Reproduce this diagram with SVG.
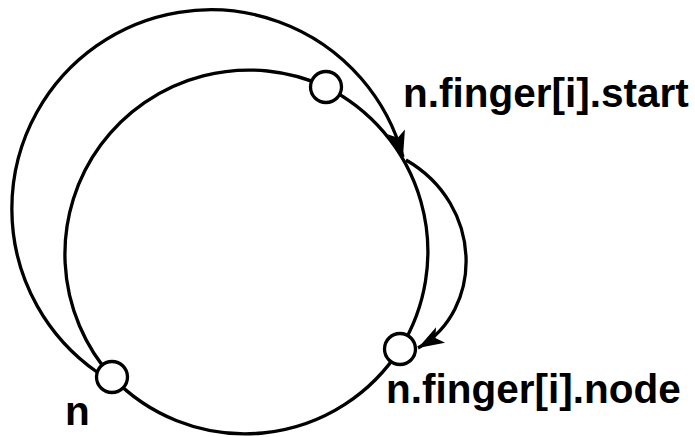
<svg xmlns="http://www.w3.org/2000/svg" width="695" height="437" viewBox="0 0 695 437">
  <style>
    .ring { fill: none; stroke: #000; stroke-width: 3.3; }
    .link { fill: none; stroke: #000; stroke-width: 3.3; }
    .node circle { fill: #fff; stroke: #000; stroke-width: 3.3; }
    .label { font-family: "Liberation Sans", Arial, sans-serif; font-weight: bold; font-size: 40.5px; fill: #000; }
  </style>
  <defs>
    <marker id="head" markerUnits="userSpaceOnUse" markerWidth="30" markerHeight="24" refX="26" refY="12" orient="auto" overflow="visible">
      <path d="M26,12 L0,3 L6,12 L0,21 Z" fill="#000"/>
    </marker>
  </defs>

  <!-- ring segments between the nodes -->
  <g id="ring">
    <path class="ring" d="M112,377 A184,184 0 0 1 326,87"/>
    <path class="ring" d="M326,87 A184,184 0 0 1 400,349"/>
    <path class="ring" d="M400,349 A184,184 0 0 1 112,377"/>
  </g>

  <!-- finger connectors -->
  <g id="connectors">
    <path class="link" d="M97,372 A199,199 0 1 1 403,157" marker-end="url(#head)"/>
    <path class="link" d="M406,160 C484,205 484,310 418,348" marker-end="url(#head)"/>
  </g>

  <g id="node-n" class="node">
    <circle cx="112" cy="377" r="15.5"/>
  </g>
  <g id="node-start" class="node">
    <circle cx="326" cy="87" r="15.5"/>
  </g>
  <g id="node-finger" class="node">
    <circle cx="400" cy="349" r="15.5"/>
  </g>

  <g id="labels">
    <text class="label" x="403" y="107">n.finger[i].start</text>
    <text class="label" x="386" y="403">n.finger[i].node</text>
    <text class="label" x="65" y="425">n</text>
  </g>
</svg>
